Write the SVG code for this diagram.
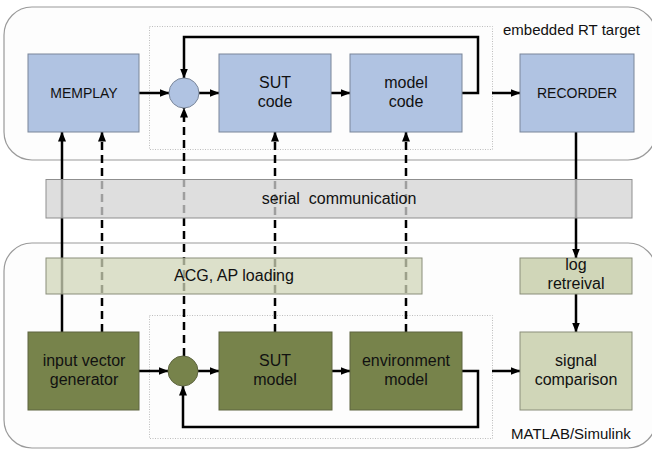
<svg xmlns="http://www.w3.org/2000/svg" width="652" height="450" viewBox="0 0 652 450">
<defs>
<marker id="ah" markerWidth="10" markerHeight="8" refX="9.5" refY="4" orient="auto" markerUnits="userSpaceOnUse">
<path d="M0,0 L10,4 L0,8 Z" fill="#000"/>
</marker>
<style>
text{font-family:"Liberation Sans",Arial,sans-serif;fill:#111;text-anchor:middle}
.outer{fill:#fdfdfd;stroke:#9a9a9a;stroke-width:1.2}
.dot{fill:none;stroke:#bdbdbd;stroke-width:1;stroke-dasharray:1 1.5}
.blue{fill:#b0c3e2;stroke:#7a8699;stroke-width:1}
.dark{fill:#77834b;stroke:#5e6540;stroke-width:1}
.light{fill:#d0d6b8;stroke:#8a8e7a;stroke-width:1}
.bar{fill-opacity:0.75}
.c{fill:none;stroke:#000;stroke-width:2.5}
.d{fill:none;stroke:#000;stroke-width:2.5;stroke-dasharray:8 5}
.f16{font-size:16px}
.f14{font-size:14px}
.lbl{font-size:15px;text-anchor:start}
</style>
</defs>
<rect class="outer" x="4" y="7" width="652" height="153" rx="28"/>
<rect class="outer" x="4" y="243" width="652" height="205" rx="28"/>
<rect class="dot" x="149.5" y="26.5" width="343" height="123"/>
<rect class="dot" x="149.5" y="315.5" width="343" height="123"/>
<text class="lbl" x="503" y="35">embedded RT target</text>
<text class="lbl" x="511" y="439">MATLAB/Simulink</text>
<g id="connectors">
<path class="c" d="M139,93 H169" marker-end="url(#ah)"/>
<path class="c" d="M199,93 H219" marker-end="url(#ah)"/>
<path class="c" d="M331,93 H350" marker-end="url(#ah)"/>
<path class="c" d="M462,93 H478 V37 H184 V78" marker-end="url(#ah)"/>
<path class="c" d="M492,93 H520" marker-end="url(#ah)"/>
<path class="c" d="M139,371 H168" marker-end="url(#ah)"/>
<path class="c" d="M198,371 H219" marker-end="url(#ah)"/>
<path class="c" d="M332,371 H350" marker-end="url(#ah)"/>
<path class="c" d="M462,371 H478 V427 H183 V386" marker-end="url(#ah)"/>
<path class="c" d="M492,371 H520" marker-end="url(#ah)"/>
<path class="c" d="M62,332 V132" marker-end="url(#ah)"/>
<path class="d" d="M102,332 V132" marker-end="url(#ah)"/>
<path class="d" d="M184,356 V108" marker-end="url(#ah)"/>
<path class="d" d="M275,332 V132" marker-end="url(#ah)"/>
<path class="d" d="M406,332 V132" marker-end="url(#ah)"/>
<path class="c" d="M576,132 V258" marker-end="url(#ah)"/>
<path class="c" d="M576,294 V332" marker-end="url(#ah)"/>
</g>
<g id="serial">
<rect class="bar" x="46" y="179.5" width="586" height="38.5" fill="#d3d3d3" stroke="#8f8f8f"/>
<text class="f16" x="339" y="204">serial&#160; communication</text>
</g>
<g id="acg">
<rect class="bar light" x="46" y="258" width="376" height="36"/>
<text class="f16" x="234" y="281">ACG, AP loading</text>
</g>
<g id="logretreival">
<rect class="light" x="520" y="258" width="112" height="36"/>
<text class="f16" x="576" y="270">log</text>
<text class="f16" x="576" y="289">retreival</text>
</g>
<g id="memplay">
<rect class="blue" x="28" y="54" width="111" height="78"/>
<text class="f14" x="84" y="98">MEMPLAY</text>
</g>
<g id="sumtop">
<circle class="blue" cx="184" cy="93" r="15"/>
</g>
<g id="sutcode">
<rect class="blue" x="219" y="54" width="112" height="78"/>
<text class="f16" x="275" y="88">SUT</text>
<text class="f16" x="275" y="107">code</text>
</g>
<g id="modelcode">
<rect class="blue" x="350" y="54" width="112" height="78"/>
<text class="f16" x="406" y="88">model</text>
<text class="f16" x="406" y="107">code</text>
</g>
<g id="recorder">
<rect class="blue" x="520" y="54" width="114" height="78"/>
<text class="f14" x="577" y="98">RECORDER</text>
</g>
<g id="ivg">
<rect class="dark" x="28" y="332" width="111" height="78"/>
<text class="f16" x="84" y="366">input vector</text>
<text class="f16" x="84" y="385">generator</text>
</g>
<g id="sumbottom">
<circle class="dark" cx="183" cy="371" r="15"/>
</g>
<g id="sutmodel">
<rect class="dark" x="219" y="332" width="113" height="78"/>
<text class="f16" x="275" y="366">SUT</text>
<text class="f16" x="275" y="385">model</text>
</g>
<g id="envmodel">
<rect class="dark" x="350" y="332" width="112" height="78"/>
<text class="f16" x="406" y="366">environment</text>
<text class="f16" x="406" y="385">model</text>
</g>
<g id="sigcomp">
<rect class="light" x="520" y="332" width="112" height="78"/>
<text class="f16" x="576" y="366">signal</text>
<text class="f16" x="576" y="385">comparison</text>
</g>
</svg>
